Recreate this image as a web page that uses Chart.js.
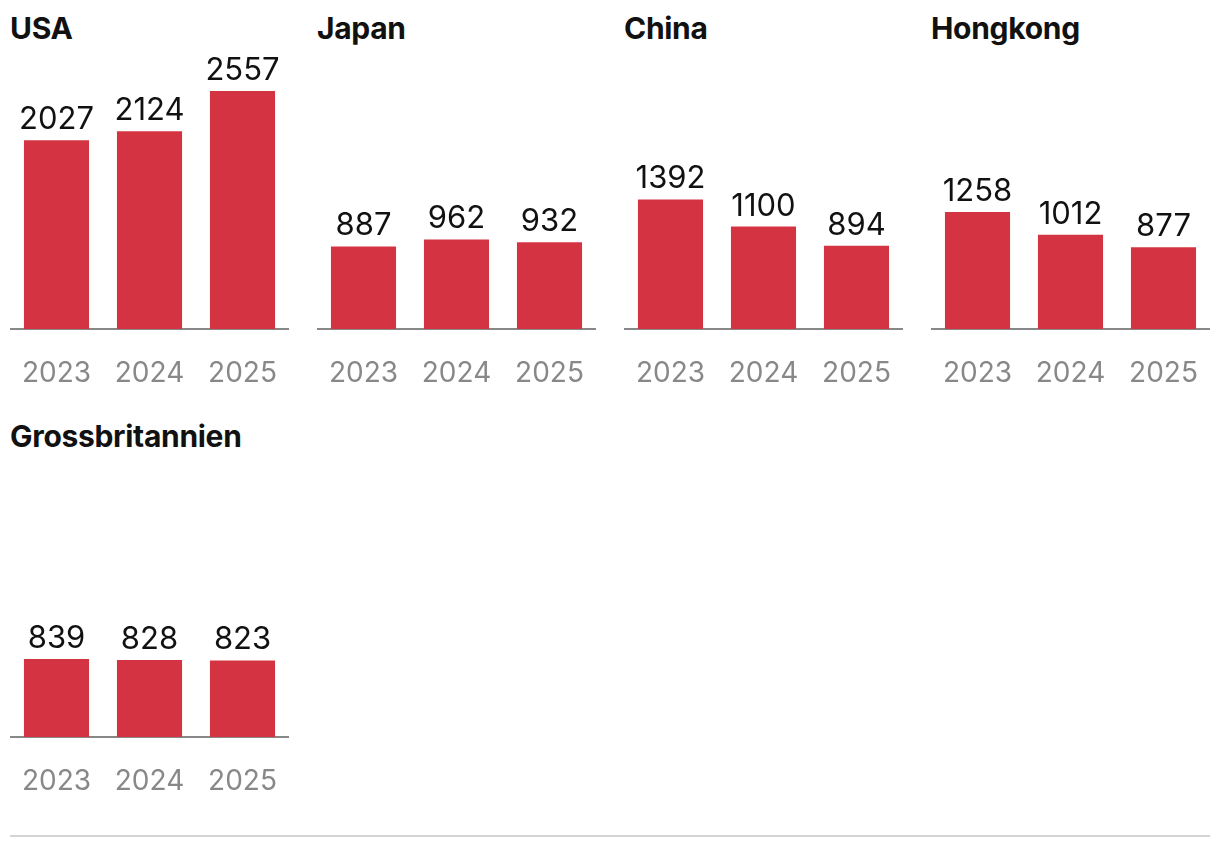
<!DOCTYPE html>
<html lang="de">
<head>
<meta charset="UTF-8">
<title>Small multiples</title>
<script src="https://cdn.jsdelivr.net/npm/chart.js"></script>
<style>
  html, body { margin: 0; padding: 0; background: #fff; }
  body { width: 1220px; height: 848px; position: relative; font-family: Inter, "Noto Sans", sans-serif; }
  .grid {
    position: absolute; left: 10px; top: 0; width: 1200px;
    display: grid; grid-template-columns: repeat(4, 1fr); column-gap: 28px;
  }
  .panel { position: relative; height: 408px; }
  .panel h2 {
    position: absolute; top: 13px; left: 0; margin: 0;
    font-size: 30px; line-height: 1; font-weight: 700; color: #111; letter-spacing: -0.3px;
  }
  .box { position: absolute; top: 45px; left: 0; width: 279px; height: 360px; }
  .rule { position: absolute; left: 10px; top: 835px; width: 1200px; height: 2px; background: #d4d4d4; }
</style>
</head>
<body>
<div class="grid" id="grid"></div>
<div class="rule"></div>
<script>
const countries = ['USA', 'Japan', 'China', 'Hongkong', 'Grossbritannien'];
const years = ['2023', '2024', '2025'];
const usa = [2027, 2124, 2557];
const japan = [887, 962, 932];
const china = [1392, 1100, 894];
const hongkong = [1258, 1012, 877];
const gb = [839, 828, 823];
const series = [usa, japan, china, hongkong, gb];

const yMax = Math.max(...series.flat());

// draws the value above every bar
const valueLabels = {
  id: 'valueLabels',
  afterDatasetsDraw(chart) {
    const ctx = chart.ctx;
    const meta = chart.getDatasetMeta(0);
    const data = chart.data.datasets[0].data;
    ctx.save();
    ctx.font = '400 31px Inter';
    ctx.fillStyle = '#111';
    ctx.textAlign = 'center';
    ctx.textBaseline = 'alphabetic';
    meta.data.forEach((bar, i) => {
      ctx.fillText(String(data[i]), bar.x, bar.y - 11);
    });
    ctx.restore();
  }
};

const grid = document.getElementById('grid');
countries.forEach((name, idx) => {
  const panel = document.createElement('div');
  panel.className = 'panel';
  panel.innerHTML = '<h2>' + name + '</h2><div class="box"><canvas></canvas></div>';
  grid.appendChild(panel);
  const canvas = panel.querySelector('canvas');

  new Chart(canvas, {
    type: 'bar',
    data: {
      labels: years,
      datasets: [{
        data: series[idx],
        backgroundColor: '#d43441',
        barPercentage: 0.7,
        categoryPercentage: 1.0
      }]
    },
    options: {
      responsive: true,
      maintainAspectRatio: false,
      animation: false,
      layout: { padding: { top: 46, bottom: 16, left: 0, right: 0 } },
      plugins: { legend: { display: false }, tooltip: { enabled: false } },
      scales: {
        x: {
          z: 1,
          grid: { display: false, drawTicks: false },
          border: { display: true, color: '#888', width: 2 },
          ticks: { color: '#888', padding: 28, font: { family: 'Inter', size: 28 } },
          afterFit(scale) {
            scale.paddingLeft = 0;
            scale.paddingRight = 0;
            scale.height = 60;
          }
        },
        y: { display: false, min: 0, max: yMax }
      }
    },
    plugins: [valueLabels]
  });
});
</script>
</body>
</html>
